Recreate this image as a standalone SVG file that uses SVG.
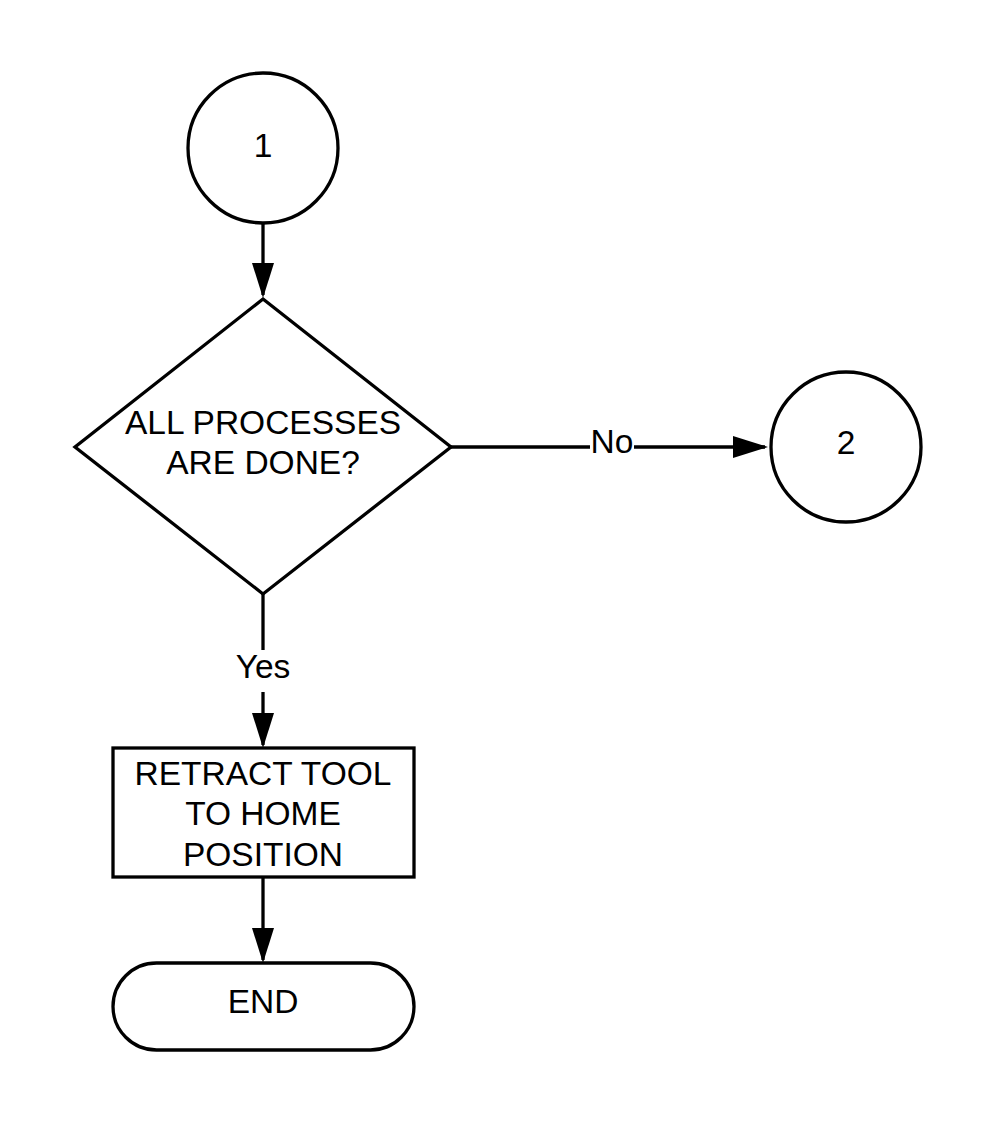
<svg xmlns="http://www.w3.org/2000/svg" width="996" height="1125" viewBox="0 0 996 1125">
  <defs>
    <style>
      .shape { fill: #ffffff; stroke: #000000; stroke-width: 3.3; }
      .conn { fill: none; stroke: #000000; stroke-width: 3.3; }
      .txt { font-family: "Liberation Sans", Arial, sans-serif; font-size: 33.5px; fill: #000000; text-anchor: middle; }
      .lbl { font-family: "Liberation Sans", Arial, sans-serif; font-size: 33.5px; fill: #000000; text-anchor: middle; }
    </style>
    <marker id="arrow" viewBox="0 0 35 22" refX="32" refY="11" markerWidth="35" markerHeight="22" markerUnits="userSpaceOnUse" orient="auto">
      <path d="M0,0 L35,11 L0,22 Z" fill="#000000"/>
    </marker>
  </defs>
  <rect width="996" height="1125" fill="#ffffff"/>

  <g id="connectors">
    <path class="conn" d="M263,224 L263,295" marker-end="url(#arrow)"/>
    <path class="conn" d="M451,447 L590,447"/>
    <path class="conn" d="M634,447 L765,447" marker-end="url(#arrow)"/>
    <path class="conn" d="M263,594 L263,650"/>
    <path class="conn" d="M263,692 L263,745" marker-end="url(#arrow)"/>
    <path class="conn" d="M263,877 L263,960" marker-end="url(#arrow)"/>
    <text class="lbl" x="612" y="453">No</text>
    <text class="lbl" x="263" y="678">Yes</text>
  </g>

  <g id="node-1">
    <circle class="shape" cx="263" cy="148" r="75"/>
    <text class="txt" x="263" y="157">1</text>
  </g>

  <g id="node-decision">
    <polygon class="shape" points="263,299 451,447 263,594 75,447"/>
    <text class="txt" x="263" y="434">ALL PROCESSES</text>
    <text class="txt" x="263" y="474">ARE DONE?</text>
  </g>

  <g id="node-2">
    <circle class="shape" cx="846" cy="447" r="75"/>
    <text class="txt" x="846" y="454">2</text>
  </g>

  <g id="node-retract">
    <rect class="shape" x="113" y="748" width="301" height="129"/>
    <text class="txt" x="263" y="785">RETRACT TOOL</text>
    <text class="txt" x="263" y="825">TO HOME</text>
    <text class="txt" x="263" y="866">POSITION</text>
  </g>

  <g id="node-end">
    <rect class="shape" x="113" y="963" width="301" height="87" rx="43.5" ry="43.5"/>
    <text class="txt" x="263" y="1013">END</text>
  </g>
</svg>
